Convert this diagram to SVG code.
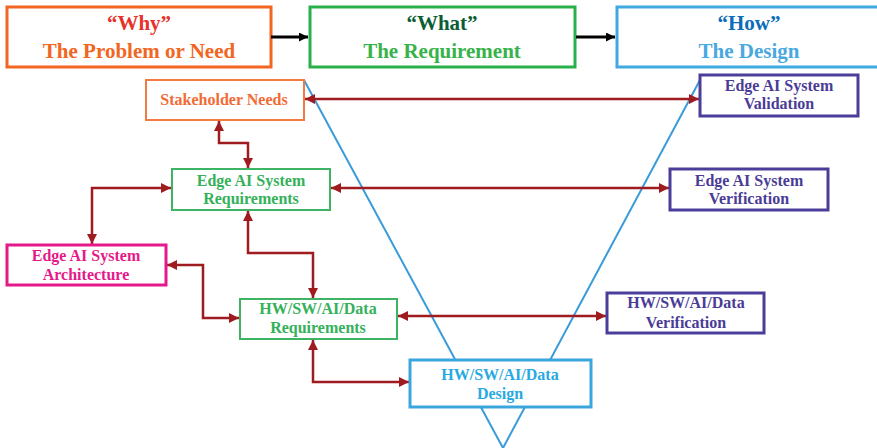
<svg xmlns="http://www.w3.org/2000/svg" width="877" height="448" viewBox="0 0 877 448">
<defs>
<marker id="ar" viewBox="0 0 10 10" refX="10" refY="5" markerWidth="4" markerHeight="4" orient="auto-start-reverse" markerUnits="strokeWidth">
<path d="M0,0 L10,5 L0,10 z" fill="#9e1b20"/>
</marker>
<marker id="ab" viewBox="0 0 10 10" refX="10" refY="5" markerWidth="3" markerHeight="3" orient="auto" markerUnits="strokeWidth">
<path d="M0,0 L10,5 L0,10 z" fill="#000"/>
</marker>
<style>
text{font-family:"Liberation Serif","Times New Roman",serif;font-weight:bold;text-anchor:middle}
.h{font-size:21px}
.n{font-size:16px}
.box{fill:#fff;stroke-width:2}
.big{fill:#fff;stroke-width:3}
.c{fill:none;stroke:#9e1b20;stroke-width:2.5;marker-start:url(#ar);marker-end:url(#ar)}
</style>
</defs>
<rect width="877" height="448" fill="#fff"/>
<g id="vshape">
<polyline points="304,80 503,448 700,80" fill="none" stroke="#3a9bd9" stroke-width="2"/>
</g>
<g id="why"><rect class="big" x="7" y="7" width="264" height="60" stroke="#f26522"/>
<text class="h" x="139" y="30" fill="#e8312a">“Why”</text>
<text class="h" x="139" y="58" fill="#f26522">The Problem or Need</text></g>
<g id="what"><rect class="big" x="310" y="7" width="265" height="60" stroke="#2ab04a"/>
<text class="h" x="442" y="30" fill="#0b5e34">“What”</text>
<text class="h" x="442" y="58" fill="#37b34a">The Requirement</text></g>
<g id="how"><rect class="big" x="617" y="7" width="262" height="60" stroke="#3fa9e0"/>
<text class="h" x="749" y="30" fill="#0b6cb8">“How”</text>
<text class="h" x="749" y="58" fill="#4aa8e0">The Design</text></g>
<g id="connectors">
<line x1="271" y1="37" x2="308" y2="37" stroke="#000" stroke-width="3" marker-end="url(#ab)"/>
<line x1="576" y1="37" x2="615" y2="37" stroke="#000" stroke-width="3" marker-end="url(#ab)"/>
<polyline class="c" points="219,121 219,143 248,143 248,168"/>
<polyline class="c" points="171,188 92,188 92,244"/>
<polyline class="c" points="248,211 248,253 313,253 313,298"/>
<polyline class="c" points="167,265 203,265 203,318 239,318"/>
<polyline class="c" points="313,340 313,382 409,382"/>
<line class="c" x1="305" y1="99" x2="699" y2="99"/>
<line class="c" x1="331" y1="188" x2="669" y2="188"/>
<line class="c" x1="398" y1="316" x2="606" y2="316"/>
</g>
<g id="stakeholder"><rect class="box" x="146" y="80" width="158" height="40" stroke="#f47b3f"/>
<text class="n" x="224" y="105" fill="#f26a35">Stakeholder Needs</text></g>
<g id="sysreq"><rect class="box" x="172" y="169" width="158" height="41" stroke="#3cb463"/>
<text class="n" x="251" y="186" fill="#34b15a">Edge AI System</text>
<text class="n" x="251" y="204" fill="#34b15a">Requirements</text></g>
<g id="arch"><rect class="big" x="7" y="245" width="159" height="40" stroke="#e5198a"/>
<text class="n" x="86" y="261" fill="#e5198a">Edge AI System</text>
<text class="n" x="86" y="280" fill="#e5198a">Architecture</text></g>
<g id="hwreq"><rect class="box" x="240" y="299" width="157" height="40" stroke="#3cb463"/>
<text class="n" x="318" y="314" fill="#34b15a">HW/SW/AI/Data</text>
<text class="n" x="318" y="333" fill="#34b15a">Requirements</text></g>
<g id="design"><rect class="big" x="410" y="360" width="181" height="47" stroke="#3aa6dd"/>
<text class="n" x="500" y="380" fill="#29a9e1">HW/SW/AI/Data</text>
<text class="n" x="500" y="399" fill="#29a9e1">Design</text></g>
<g id="hwver"><rect class="big" x="607" y="293" width="157" height="40" stroke="#4b3e9b"/>
<text class="n" x="686" y="308" fill="#4a3c96">HW/SW/AI/Data</text>
<text class="n" x="686" y="328" fill="#4a3c96">Verification</text></g>
<g id="sysver"><rect class="big" x="670" y="169" width="158" height="41" stroke="#4b3e9b"/>
<text class="n" x="749" y="186" fill="#4a3c96">Edge AI System</text>
<text class="n" x="749" y="204" fill="#4a3c96">Verification</text></g>
<g id="sysval"><rect class="big" x="700" y="75" width="158" height="41" stroke="#4b3e9b"/>
<text class="n" x="779" y="91" fill="#4a3c96">Edge AI System</text>
<text class="n" x="779" y="109" fill="#4a3c96">Validation</text></g>
</svg>
